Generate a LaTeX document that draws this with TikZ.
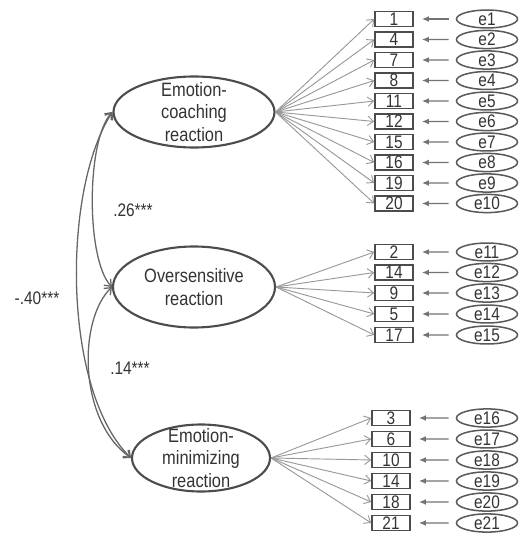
\documentclass[tikz,border=0pt]{standalone}
\usepackage{fontspec}
\setmainfont{Liberation Sans}[FakeStretch=0.85]
\usetikzlibrary{shapes.geometric,arrows.meta}

\begin{document}
\begin{tikzpicture}[scale=0.03,
latent/.style={draw=black!70, line width=1.8pt, ellipse, inner sep=0pt},
lat text/.style={align=center, text=black!80, font=\fontsize{16.5}{19.5}\selectfont},
obs/.style={draw=black!70, line width=1.3pt, minimum width=1.14cm, minimum height=0.45cm, inner sep=0pt, text=black!80, font=\fontsize{15.5}{15.5}\selectfont},
resid/.style={draw=black!65, line width=1.3pt, ellipse, minimum width=1.83cm, minimum height=0.48cm, inner sep=0pt, text=black!80, font=\fontsize{15.5}{15.5}\selectfont},
load/.style={draw=black!40, line width=0.8pt, -{Straight Barb[length=5pt,width=8pt]}},
err/.style={draw=black!55, line width=1pt, -{Latex[length=6pt,width=5pt]}, shorten <=6pt, shorten >=7pt},
cov/.style={draw=black!60, line width=1.1pt, {Straight Barb[length=5pt,width=8pt]}-{Straight Barb[length=5pt,width=8pt]}},
coef/.style={text=black!80, font=\fontsize{15.5}{15.5}\selectfont}]
\useasboundingbox (0,0) rectangle (522,-533);

% latent factors
\node[latent, minimum width=4.83cm, minimum height=2.13cm, label={[lat text]center:Emotion-\\coaching\\reaction}] (coach) at (194,-112) {};
\node[latent, minimum width=4.86cm, minimum height=2.43cm, label={[lat text]center:Oversensitive\\reaction}] (over) at (194,-287) {};
\node[latent, minimum width=4.14cm, minimum height=2.01cm, label={[lat text]center:Emotion-\\minimizing\\reaction}] (minim) at (201,-458) {};

% covariances
\draw[cov] (coach.west) .. controls (86,-140) and (86,-260) .. (over.west);
\draw[cov] (over.west) .. controls (78,-320) and (78,-420) .. (minim.west);
\draw[cov] (coach.west) .. controls (62,-190) and (62,-390) .. (minim.west);
\node[coef] (r12) at (133,-210) {.26***};
\node[coef] (r23) at (130,-368) {.14***};
\node[coef] (r13) at (37,-298) {-.40***};

% emotion-coaching items
\node[obs] (c1) at (394,-19) {1};
\node[obs] (c2) at (394,-39.5) {4};
\node[obs] (c3) at (394,-60) {7};
\node[obs] (c4) at (394,-80.5) {8};
\node[obs] (c5) at (394,-101) {11};
\node[obs] (c6) at (394,-121.5) {12};
\node[obs] (c7) at (394,-142) {15};
\node[obs] (c8) at (394,-162.5) {16};
\node[obs] (c9) at (394,-183) {19};
\node[obs] (c10) at (394,-203.5) {20};
\node[resid] (e1) at (487,-19) {e1};
\node[resid] (e2) at (487,-39.5) {e2};
\node[resid] (e3) at (487,-60) {e3};
\node[resid] (e4) at (487,-80.5) {e4};
\node[resid] (e5) at (487,-101) {e5};
\node[resid] (e6) at (487,-121.5) {e6};
\node[resid] (e7) at (487,-142) {e7};
\node[resid] (e8) at (487,-162.5) {e8};
\node[resid] (e9) at (487,-183) {e9};
\node[resid] (e10) at (487,-203.5) {e10};
\path[load] (coach.east) -- (c1.west);
\path[load] (coach.east) -- (c2.west);
\path[load] (coach.east) -- (c3.west);
\path[load] (coach.east) -- (c4.west);
\path[load] (coach.east) -- (c5.west);
\path[load] (coach.east) -- (c6.west);
\path[load] (coach.east) -- (c7.west);
\path[load] (coach.east) -- (c8.west);
\path[load] (coach.east) -- (c9.west);
\path[load] (coach.east) -- (c10.west);
\path[err] (e1) -- (c1);
\path[err] (e2) -- (c2);
\path[err] (e3) -- (c3);
\path[err] (e4) -- (c4);
\path[err] (e5) -- (c5);
\path[err] (e6) -- (c6);
\path[err] (e7) -- (c7);
\path[err] (e8) -- (c8);
\path[err] (e9) -- (c9);
\path[err] (e10) -- (c10);

% oversensitive items
\node[obs] (o1) at (394,-252) {2};
\node[obs] (o2) at (394,-272.5) {14};
\node[obs] (o3) at (394,-293) {9};
\node[obs] (o4) at (394,-314) {5};
\node[obs] (o5) at (394,-335) {17};
\node[resid] (e11) at (487,-252) {e11};
\node[resid] (e12) at (487,-272.5) {e12};
\node[resid] (e13) at (487,-293) {e13};
\node[resid] (e14) at (487,-314) {e14};
\node[resid] (e15) at (487,-335) {e15};
\path[load] (over.east) -- (o1.west);
\path[load] (over.east) -- (o2.west);
\path[load] (over.east) -- (o3.west);
\path[load] (over.east) -- (o4.west);
\path[load] (over.east) -- (o5.west);
\path[err] (e11) -- (o1);
\path[err] (e12) -- (o2);
\path[err] (e13) -- (o3);
\path[err] (e14) -- (o4);
\path[err] (e15) -- (o5);

% emotion-minimizing items
\node[obs] (m1) at (391,-418) {3};
\node[obs] (m2) at (391,-439) {6};
\node[obs] (m3) at (391,-460) {10};
\node[obs] (m4) at (391,-481) {14};
\node[obs] (m5) at (391,-502) {18};
\node[obs] (m6) at (391,-523) {21};
\node[resid] (e16) at (487,-418) {e16};
\node[resid] (e17) at (487,-439) {e17};
\node[resid] (e18) at (487,-460) {e18};
\node[resid] (e19) at (487,-481) {e19};
\node[resid] (e20) at (487,-502) {e20};
\node[resid] (e21) at (487,-523) {e21};
\path[load] (minim.east) -- (m1.west);
\path[load] (minim.east) -- (m2.west);
\path[load] (minim.east) -- (m3.west);
\path[load] (minim.east) -- (m4.west);
\path[load] (minim.east) -- (m5.west);
\path[load] (minim.east) -- (m6.west);
\path[err] (e16) -- (m1);
\path[err] (e17) -- (m2);
\path[err] (e18) -- (m3);
\path[err] (e19) -- (m4);
\path[err] (e20) -- (m5);
\path[err] (e21) -- (m6);
\end{tikzpicture}
\end{document}
